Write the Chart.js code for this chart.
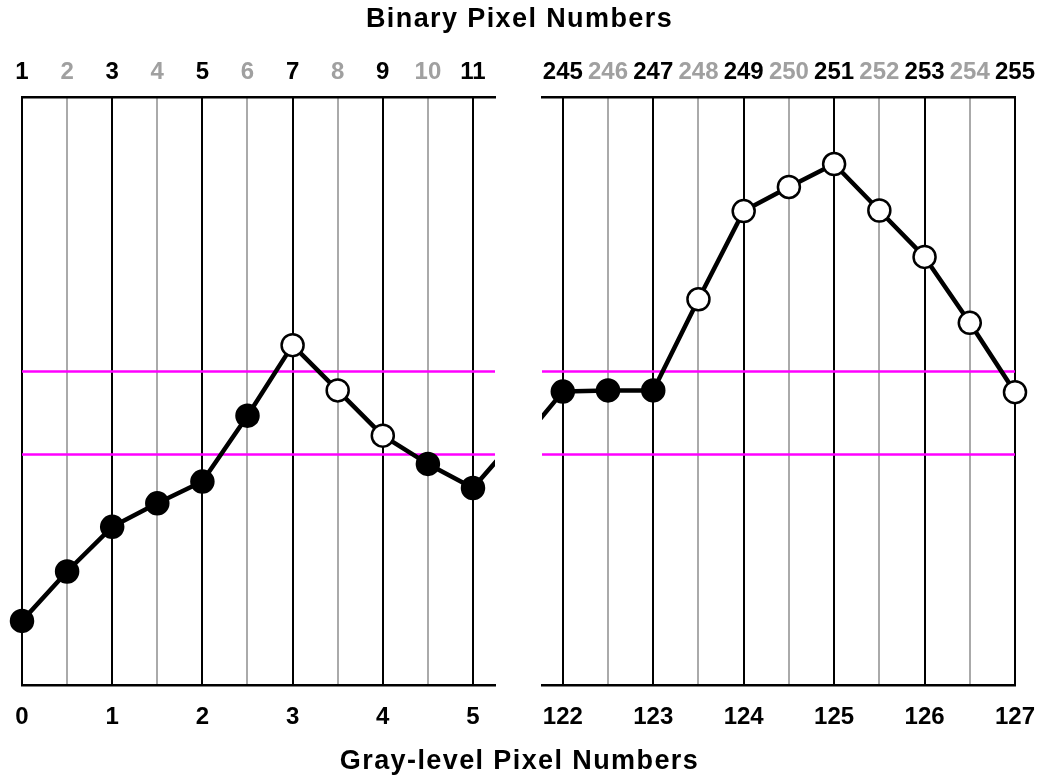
<!DOCTYPE html>
<html><head><meta charset="utf-8">
<script src="https://cdn.jsdelivr.net/npm/chart.js@4/dist/chart.umd.min.js"></script>
<style>
html,body{margin:0;padding:0;background:#fff;width:1039px;height:778px;overflow:hidden;}
#wrap{position:relative;width:1039px;height:778px;}
canvas{position:absolute;top:0;}
.title{position:absolute;left:0;width:1039px;text-align:center;font:bold 27px "Liberation Sans",Arial,sans-serif;letter-spacing:1.4px;color:#000;line-height:28px;white-space:nowrap;}
</style></head><body>
<div id="wrap">
<canvas id="left" width="519" height="778" style="left:0"></canvas>
<canvas id="right" width="520" height="778" style="left:519px"></canvas>
<div class="title" style="top:4px">Binary Pixel Numbers</div>
<div class="title" style="top:746px">Gray-level Pixel Numbers</div>
</div>
<script>
// ---- data ----
const leftGray = [0, 0.5, 1, 1.5, 2, 2.5, 3, 3.5, 4, 4.5, 5, 5.5];
const leftValues = [10.9, 19.3, 26.9, 30.9, 34.6, 45.8, 57.8, 50.1, 42.4, 37.6, 33.5, 42.3];
const leftBinary = [0, 0, 0, 0, 0, 0, 1, 1, 1, 0, 0, 0];
const rightGray = [121.5, 122, 122.5, 123, 123.5, 124, 124.5, 125, 125.5, 126, 126.5, 127];
const rightValues = [40.6, 49.9, 50.1, 50.1, 65.6, 80.6, 84.7, 88.6, 80.7, 72.8, 61.6, 49.8];
const rightBinary = [0, 0, 0, 0, 1, 1, 1, 1, 1, 1, 1, 1];
const leftTopLabels = ['1','2','3','4','5','6','7','8','9','10','11'];
const rightTopLabels = ['245','246','247','248','249','250','251','252','253','254','255'];
const leftBottomLabels = [0, 1, 2, 3, 4, 5];
const rightBottomLabels = [122, 123, 124, 125, 126, 127];
const thresholds = [53.3, 39.2];
const leftRange = [0, 5.244];
const rightRange = [121.77, 127];

// ---- drawing ----
const FONT = {family: '"Liberation Sans", Arial, sans-serif', size: 24, weight: 'bold'};
const isInt = v => Math.abs(v - Math.round(v)) < 1e-6;

function makePanel(id, gray, values, binary, topLabels, bottomLabels, range, pad) {
  const [xmin, xmax] = range;
  const tickPos = [];
  for (let v = bottomLabels[0]; v <= bottomLabels[bottomLabels.length - 1] + 1e-9; v += 0.5) tickPos.push(v);
  const pts = [], ptsBg = [];
  gray.forEach((g, i) => {
    if (g >= xmin - 1e-9 && g <= xmax + 1e-9) {
      pts.push({x: g, y: values[i]});
      ptsBg.push(binary[i] ? '#ffffff' : '#000000');
    }
  });
  const datasets = thresholds.map(t => ({
    data: [{x: xmin, y: t}, {x: xmax, y: t}],
    borderColor: '#ff00ff', borderWidth: 2.5, pointRadius: 0, order: 3, clip: 0
  }));
  datasets.push({
    data: gray.map((g, i) => ({x: g, y: values[i]})),
    borderColor: '#000', borderWidth: 4.5, pointRadius: 0, tension: 0, order: 2, clip: 0,
    borderJoinStyle: 'round'
  });
  datasets.push({
    data: pts, showLine: false, pointRadius: 11, pointBorderWidth: 2.5,
    pointBackgroundColor: ptsBg, pointBorderColor: '#000', order: 1, clip: false
  });
  const setTicks = s => { s.ticks = tickPos.map(v => ({value: v})); };
  new Chart(document.getElementById(id), {
    type: 'line',
    data: {datasets},
    options: {
      responsive: false, animation: false, devicePixelRatio: 1,
      layout: {padding: {left: pad[0], right: pad[1], top: 0, bottom: 0}},
      plugins: {legend: {display: false}, tooltip: {enabled: false}},
      scales: {
        x: {
          type: 'linear', position: 'bottom', min: xmin, max: xmax,
          afterBuildTicks: setTicks,
          afterFit: s => { s.height = 778 - 685; s.paddingLeft = 0; s.paddingRight = 0; },
          grid: {color: c => (c.tick && isInt(c.tick.value)) ? '#000' : '#aaaaaa', lineWidth: 2, drawTicks: false},
          border: {display: true, color: '#000', width: 2.5},
          ticks: {autoSkip: false, maxRotation: 0, padding: 18, font: FONT, color: '#000',
                  callback: v => isInt(v) ? String(bottomLabels[bottomLabels.indexOf(Math.round(v))]) : ''}
        },
        x2: {
          type: 'linear', position: 'top', min: xmin, max: xmax,
          afterBuildTicks: setTicks,
          afterFit: s => { s.height = 97; s.paddingLeft = 0; s.paddingRight = 0; },
          grid: {display: false, drawTicks: false},
          border: {display: true, color: '#000', width: 2.5},
          ticks: {autoSkip: false, maxRotation: 0, padding: 10, font: FONT,
                  color: c => (c.index % 2) ? '#a0a0a0' : '#000000',
                  callback: (v, i) => topLabels[i]}
        },
        y: {display: false, min: 0, max: 100}
      }
    }
  });
}
makePanel('left', leftGray, leftValues, leftBinary, leftTopLabels, leftBottomLabels, leftRange, [22, 24]);
makePanel('right', rightGray, rightValues, rightBinary, rightTopLabels, rightBottomLabels, rightRange, [23, 24]);
</script>
</body></html>
